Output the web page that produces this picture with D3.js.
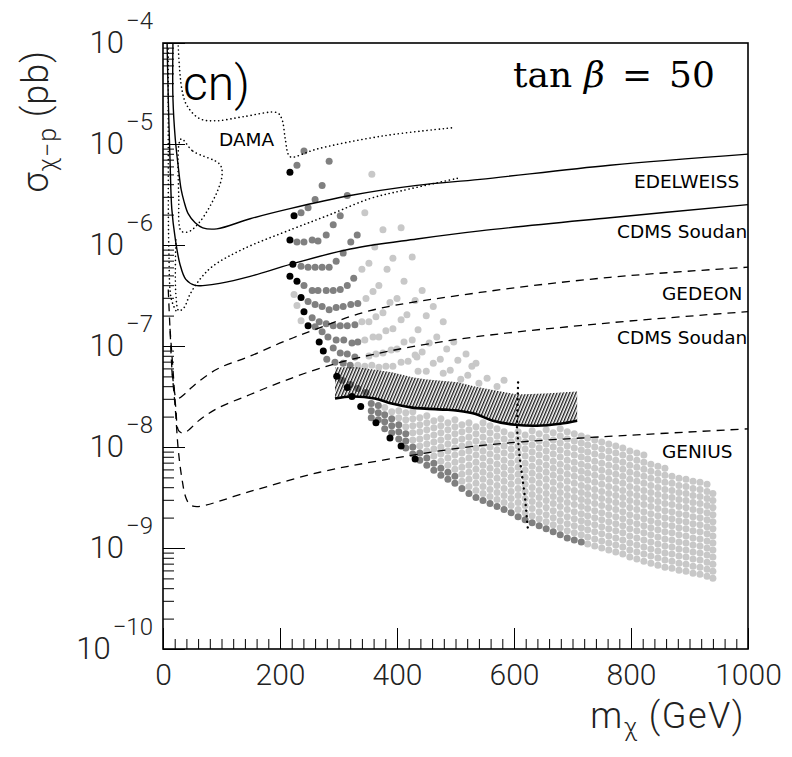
<!DOCTYPE html>
<html>
<head>
<meta charset="utf-8">
<script src="https://cdn.jsdelivr.net/npm/d3@7"></script>
<style>
  body { margin: 0; background: #fff; }
  svg { display: block; }
</style>
</head>
<body>
<div id="chart"></div>
<script>
// ---- data (m in GeV, lg = log10 of sigma in pb) ----
const xMajor = [0, 200, 400, 600, 800, 1000];
const yDecades = [-10, -9, -8, -7, -6, -5, -4];

const edelweiss = [[17,-4.00],[17,-4.55],[21,-4.95],[26,-5.22],[31,-5.45],[36,-5.57],[43,-5.69],[55,-5.78],[68,-5.83],[92,-5.84],[149,-5.74],[217,-5.64],[320,-5.51],[434,-5.41],[542,-5.35],[764,-5.21],[1000,-5.10]];
const cdmsSolid = [[7,-4.00],[9,-4.55],[12,-5.15],[15,-5.64],[21,-5.94],[29,-6.19],[39,-6.34],[55,-6.40],[72,-6.40],[97,-6.38],[149,-6.31],[219,-6.19],[320,-6.04],[434,-5.94],[542,-5.86],[764,-5.73],[1000,-5.60]];
const damaUpper = [[26,-4.03],[32,-4.45],[41,-4.62],[63,-4.75],[92,-4.77],[137,-4.73],[195,-4.69],[203,-4.75],[209,-4.95],[214,-5.10],[219,-5.13],[263,-5.05],[376,-4.92],[494,-4.84]];
const damaInner = [[31,-4.95],[51,-5.07],[97,-5.20],[101,-5.30],[92,-5.48],[63,-5.77],[43,-5.87],[31,-5.86],[27,-5.54]];
const damaLower = [[503,-5.34],[410,-5.46],[354,-5.54],[285,-5.70],[222,-5.84],[137,-6.04],[85,-6.21],[63,-6.34],[46,-6.49],[36,-6.62],[27,-6.65],[22,-6.49],[22,-5.94]];
const damaAxis = [[9,-4.06],[9,-5.05],[10,-6.04],[14,-6.53],[22,-6.65]];
const gedeon = [[9,-6.44],[12,-6.83],[17,-7.33],[24,-7.52],[38,-7.47],[51,-7.40],[92,-7.23],[149,-7.10],[205,-6.96],[263,-6.83],[354,-6.65],[542,-6.47],[764,-6.32],[1000,-6.22]];
const cdmsDashed = [[12,-6.83],[17,-7.23],[22,-7.62],[27,-7.84],[36,-7.86],[63,-7.73],[92,-7.62],[149,-7.48],[205,-7.35],[274,-7.21],[354,-7.09],[508,-6.93],[764,-6.77],[1000,-6.66]];
const genius = [[15,-7.23],[21,-7.62],[26,-8.02],[32,-8.30],[39,-8.50],[46,-8.57],[58,-8.59],[149,-8.44],[268,-8.25],[376,-8.13],[508,-8.01],[610,-7.95],[747,-7.90],[1000,-7.82]];

const bandTop = [[294,-7.21],[333,-7.21],[391,-7.26],[426,-7.31],[448,-7.33],[504,-7.36],[533,-7.40],[605,-7.48],[653,-7.47],[708,-7.45]];
const bandBottom = [[294,-7.52],[323,-7.50],[362,-7.52],[391,-7.57],[426,-7.61],[448,-7.62],[482,-7.63],[504,-7.64],[533,-7.67],[564,-7.74],[602,-7.78],[639,-7.79],[679,-7.77],[708,-7.74]];
const verticalBound = [[607,-7.36],[605,-7.82],[610,-8.12],[619,-8.51],[624,-8.83]];

const blackPts = [[217,-5.28],[224,-5.71],[217,-5.95],[222,-6.19],[217,-6.31],[229,-6.36],[236,-6.52],[241,-6.66],[248,-6.80],[267,-6.96],[274,-7.05],[297,-7.30],[315,-7.41],[323,-7.50],[338,-7.60],[364,-7.76],[388,-7.91],[407,-7.99],[431,-8.12]];
const grayPts = [[229,-5.21],[241,-5.07],[284,-5.17],[272,-5.41],[260,-5.55],[248,-5.63],[236,-5.68],
  [315,-5.51],[303,-5.71],[291,-5.80],[279,-5.90],[265,-5.96],[255,-5.95],[241,-5.97],[229,-5.97],
  [332,-5.90],[321,-5.97],[308,-6.08],[296,-6.16],[284,-6.22],[272,-6.22],[260,-6.22],[248,-6.22],[236,-6.21],
  [326,-6.33],[315,-6.40],[303,-6.44],[291,-6.45],[279,-6.45],[265,-6.45],[255,-6.45],[241,-6.40],
  [333,-6.58],[321,-6.59],[308,-6.61],[296,-6.62],[284,-6.64],[272,-6.61],[260,-6.59],[248,-6.56],
  [328,-6.79],[315,-6.80],[303,-6.80],[291,-6.80],[279,-6.78],[267,-6.76],[255,-6.72],[260,-6.81],[272,-6.86],
  [282,-6.91],[296,-6.94],[309,-6.94],[323,-6.97],[333,-6.96],
  [291,-7.02],[303,-7.07],[315,-7.08],[328,-7.11],
  [280,-7.13],[294,-7.16],[308,-7.17],[320,-7.19],
  [306,-7.34],[320,-7.38],[333,-7.42],[347,-7.46]];
const lightPts = [[357,-5.30],[345,-5.68],[376,-5.85],[407,-5.83],[362,-6.02],[393,-6.13],[426,-6.12],[352,-6.18],[340,-6.24],[383,-6.24],
  [369,-6.40],[412,-6.36],[443,-6.45],[359,-6.46],[347,-6.53],[400,-6.53],[388,-6.57],[431,-6.55],[462,-6.61],[450,-6.70],
  [417,-6.69],[407,-6.74],[376,-6.67],[364,-6.71],[352,-6.76],[340,-6.76],[479,-6.76],[436,-6.84],[393,-6.83],[381,-6.85],
  [369,-6.91],[359,-6.91],[345,-6.94],[426,-6.94],[412,-6.96],[455,-6.97],[468,-6.91],[497,-6.96],[485,-7.03],[400,-7.03],
  [390,-7.04],[376,-7.07],[364,-7.08],[352,-7.10],[443,-7.06],[431,-7.09],[419,-7.15],[407,-7.16],[434,-7.11],[518,-7.08],
  [504,-7.14],[474,-7.13],[462,-7.17],[535,-7.17],[491,-7.24],[479,-7.27],[450,-7.25],[436,-7.25],[393,-7.20],[381,-7.20],
  [369,-7.21],[357,-7.19],[345,-7.20],[333,-7.19],[521,-7.29],[509,-7.33],[554,-7.32],[583,-7.34],[540,-7.37],[571,-7.40],
  [528,-7.20],[224,-6.49],[229,-6.60],[236,-6.75]];

// dense lattice below the band: one column per m, lg listed from the bottom up
const denseM = [356,368,379,391,403,415,427,439,451,463,475,487,499,511,523,535,547,559,571,583,595,607,619,631,643,655,667,679,691,703,715,726,738,750,762,774,786,798,810,822,834,846,858,870,882,894,906,918,930,940];
const denseDark = [3,3,3,3,3,3,2,2,2,2,2,2,2,1,1,1,1,1,1,1,1,1,1,1,1,1,1,1,1,1,1,0,0,0,0,0,0,0,0,0,0,0,0,0,0,0,0,0,0,0];
const denseLg = [
  [-7.71,-7.64,-7.57],
  [-7.73,-7.66,-7.59],
  [-7.82,-7.75,-7.68,-7.61],
  [-7.86,-7.79,-7.72,-7.65],
  [-7.92,-7.85,-7.78,-7.71,-7.64],
  [-8.01,-7.94,-7.87,-7.80,-7.73,-7.66],
  [-8.07,-8.00,-7.93,-7.86,-7.79,-7.72,-7.65],
  [-8.13,-8.06,-7.99,-7.92,-7.85,-7.78,-7.71],
  [-8.18,-8.11,-8.04,-7.97,-7.90,-7.83,-7.76,-7.69],
  [-8.23,-8.16,-8.09,-8.02,-7.95,-7.88,-7.81,-7.74],
  [-8.28,-8.21,-8.14,-8.07,-8.00,-7.93,-7.86,-7.79,-7.72],
  [-8.32,-8.25,-8.18,-8.11,-8.04,-7.97,-7.90,-7.83,-7.76],
  [-8.36,-8.29,-8.22,-8.15,-8.08,-8.01,-7.94,-7.87,-7.80,-7.73],
  [-8.41,-8.34,-8.27,-8.20,-8.13,-8.06,-7.99,-7.92,-7.85,-7.78],
  [-8.46,-8.39,-8.32,-8.25,-8.18,-8.11,-8.04,-7.97,-7.90,-7.83,-7.76],
  [-8.50,-8.43,-8.36,-8.29,-8.22,-8.15,-8.08,-8.01,-7.94,-7.87,-7.80],
  [-8.53,-8.46,-8.39,-8.32,-8.25,-8.18,-8.11,-8.04,-7.97,-7.90,-7.83,-7.76],
  [-8.56,-8.49,-8.42,-8.35,-8.28,-8.21,-8.14,-8.07,-8.00,-7.93,-7.86,-7.79],
  [-8.59,-8.52,-8.45,-8.38,-8.31,-8.24,-8.17,-8.10,-8.03,-7.96,-7.89,-7.82],
  [-8.62,-8.55,-8.48,-8.41,-8.34,-8.27,-8.20,-8.13,-8.06,-7.99,-7.92,-7.85],
  [-8.65,-8.58,-8.51,-8.44,-8.37,-8.30,-8.23,-8.16,-8.09,-8.02,-7.95,-7.88],
  [-8.69,-8.62,-8.55,-8.48,-8.41,-8.34,-8.27,-8.20,-8.13,-8.06,-7.99,-7.92,-7.85],
  [-8.72,-8.65,-8.58,-8.51,-8.44,-8.37,-8.30,-8.23,-8.16,-8.09,-8.02,-7.95,-7.88],
  [-8.75,-8.68,-8.61,-8.54,-8.47,-8.40,-8.33,-8.26,-8.19,-8.12,-8.05,-7.98,-7.91,-7.84],
  [-8.78,-8.71,-8.64,-8.57,-8.50,-8.43,-8.36,-8.29,-8.22,-8.15,-8.08,-8.01,-7.94,-7.87],
  [-8.81,-8.74,-8.67,-8.60,-8.53,-8.46,-8.39,-8.32,-8.25,-8.18,-8.11,-8.04,-7.97,-7.90,-7.83],
  [-8.84,-8.77,-8.70,-8.63,-8.56,-8.49,-8.42,-8.35,-8.28,-8.21,-8.14,-8.07,-8.00,-7.93,-7.86],
  [-8.87,-8.80,-8.73,-8.66,-8.59,-8.52,-8.45,-8.38,-8.31,-8.24,-8.17,-8.10,-8.03,-7.96,-7.89,-7.82],
  [-8.90,-8.83,-8.76,-8.69,-8.62,-8.55,-8.48,-8.41,-8.34,-8.27,-8.20,-8.13,-8.06,-7.99,-7.92,-7.85],
  [-8.92,-8.85,-8.78,-8.71,-8.64,-8.57,-8.50,-8.43,-8.36,-8.29,-8.22,-8.15,-8.08,-8.01,-7.94,-7.87],
  [-8.94,-8.87,-8.80,-8.73,-8.66,-8.59,-8.52,-8.45,-8.38,-8.31,-8.24,-8.17,-8.10,-8.03,-7.96,-7.89],
  [-8.96,-8.89,-8.82,-8.75,-8.68,-8.61,-8.54,-8.47,-8.40,-8.33,-8.26,-8.19,-8.12,-8.05,-7.98,-7.91],
  [-8.98,-8.91,-8.84,-8.77,-8.70,-8.63,-8.56,-8.49,-8.42,-8.35,-8.28,-8.21,-8.14,-8.07,-8.00,-7.93],
  [-9.00,-8.93,-8.86,-8.79,-8.72,-8.65,-8.58,-8.51,-8.44,-8.37,-8.30,-8.23,-8.16,-8.09,-8.02,-7.95],
  [-9.02,-8.95,-8.88,-8.81,-8.74,-8.67,-8.60,-8.53,-8.46,-8.39,-8.32,-8.25,-8.18,-8.11,-8.04,-7.97],
  [-9.04,-8.97,-8.90,-8.83,-8.76,-8.69,-8.62,-8.55,-8.48,-8.41,-8.34,-8.27,-8.20,-8.13,-8.06,-7.99],
  [-9.06,-8.99,-8.92,-8.85,-8.78,-8.71,-8.64,-8.57,-8.50,-8.43,-8.36,-8.29,-8.22,-8.15,-8.08,-8.01],
  [-9.09,-9.02,-8.95,-8.88,-8.81,-8.74,-8.67,-8.60,-8.53,-8.46,-8.39,-8.32,-8.25,-8.18,-8.11,-8.04],
  [-9.11,-9.04,-8.97,-8.90,-8.83,-8.76,-8.69,-8.62,-8.55,-8.48,-8.41,-8.34,-8.27,-8.20,-8.13,-8.06],
  [-9.13,-9.06,-8.99,-8.92,-8.85,-8.78,-8.71,-8.64,-8.57,-8.50,-8.43,-8.36,-8.29,-8.22,-8.15,-8.08],
  [-9.15,-9.08,-9.01,-8.94,-8.87,-8.80,-8.73,-8.66,-8.59,-8.52,-8.45,-8.38,-8.31,-8.24,-8.17],
  [-9.17,-9.10,-9.03,-8.96,-8.89,-8.82,-8.75,-8.68,-8.61,-8.54,-8.47,-8.40,-8.33,-8.26,-8.19],
  [-9.19,-9.12,-9.05,-8.98,-8.91,-8.84,-8.77,-8.70,-8.63,-8.56,-8.49,-8.42,-8.35,-8.28,-8.21],
  [-9.20,-9.13,-9.06,-8.99,-8.92,-8.85,-8.78,-8.71,-8.64,-8.57,-8.50,-8.43,-8.36,-8.29],
  [-9.22,-9.15,-9.08,-9.01,-8.94,-8.87,-8.80,-8.73,-8.66,-8.59,-8.52,-8.45,-8.38,-8.31],
  [-9.23,-9.16,-9.09,-9.02,-8.95,-8.88,-8.81,-8.74,-8.67,-8.60,-8.53,-8.46,-8.39,-8.32],
  [-9.25,-9.18,-9.11,-9.04,-8.97,-8.90,-8.83,-8.76,-8.69,-8.62,-8.55,-8.48,-8.41,-8.34],
  [-9.26,-9.19,-9.12,-9.05,-8.98,-8.91,-8.84,-8.77,-8.70,-8.63,-8.56,-8.49,-8.42,-8.35],
  [-9.28,-9.21,-9.14,-9.07,-9.00,-8.93,-8.86,-8.79,-8.72,-8.65,-8.58,-8.51,-8.44,-8.37],
  [-9.30,-9.23,-9.16,-9.09,-9.02,-8.95,-8.88,-8.81,-8.74,-8.67,-8.60,-8.53,-8.46]
];

const curveLabels = [
  {text: 'DAMA', x: 219, y: 146},
  {text: 'EDELWEISS', x: 634, y: 188},
  {text: 'CDMS Soudan', x: 617, y: 238},
  {text: 'GEDEON', x: 662, y: 300},
  {text: 'CDMS Soudan', x: 617, y: 344},
  {text: 'GENIUS', x: 662, y: 458}
];

// ---- layout ----
const margin = { top: 43, right: 44, bottom: 108, left: 163 };
const width = 585;
const height = 606;
const thin = 'Roboto, "DejaVu Sans", sans-serif';

const root = d3.select('#chart').append('svg')
    .attr('width', 792)
    .attr('height', 757);

const defs = root.append('defs');
defs.append('pattern')
    .attr('id', 'hatch')
    .attr('patternUnits', 'userSpaceOnUse')
    .attr('width', 2.9)
    .attr('height', 10)
    .attr('patternTransform', 'rotate(23)')
    .append('line')
    .attr('x1', 0.7).attr('y1', 0).attr('x2', 0.7).attr('y2', 10)
    .attr('stroke', '#000')
    .attr('stroke-width', 1.2);

const svg = root.append('g')
    .attr('transform', `translate(${margin.left},${margin.top})`);

const x = d3.scaleLinear().domain([0, 1000]).range([0, width]);
const y = d3.scaleLog().domain([1e-10, 1e-4]).range([height, 0]);
const px = d => x(d[0]);
const py = d => y(Math.pow(10, d[1]));

// scatter points
const densePts = denseM.flatMap((m, i) => denseLg[i].map((lg, j) => ({ p: [m, lg], dark: j < denseDark[i] })));

function dots(data, fill) {
    svg.append('g')
        .selectAll('circle')
        .data(data)
        .join('circle')
        .attr('cx', px)
        .attr('cy', py)
        .attr('r', 3.5)
        .attr('fill', fill);
}
dots(densePts.filter(d => !d.dark).map(d => d.p), '#c8c8c8');
dots(lightPts, '#c8c8c8');
dots(densePts.filter(d => d.dark).map(d => d.p), '#808080');
dots(grayPts, '#808080');
dots(blackPts, '#000');

// hatched band
const bandPoly = bandTop.concat(bandBottom.slice().reverse());
svg.append('path')
    .datum(bandPoly)
    .attr('fill', 'url(#hatch)')
    .attr('stroke', 'none')
    .attr('d', d => d3.line().x(px).y(py)(d) + 'Z');

const smooth = d3.line().x(px).y(py).curve(d3.curveCatmullRom.alpha(0.5));

svg.append('path')
    .datum(bandBottom)
    .attr('fill', 'none')
    .attr('stroke', '#000')
    .attr('stroke-width', 2.6)
    .attr('d', smooth);

// exclusion curves
function curve(data, dash, w, closed) {
    const gen = closed ? d3.line().x(px).y(py).curve(d3.curveCatmullRomClosed.alpha(0.5)) : smooth;
    svg.append('path')
        .datum(data)
        .attr('fill', 'none')
        .attr('stroke', '#000')
        .attr('stroke-width', w)
        .attr('stroke-linecap', dash === 'dot' ? 'round' : 'butt')
        .attr('stroke-dasharray', dash === 'dot' ? '0.1 4' : dash)
        .attr('d', gen);
}
curve(edelweiss, null, 1.4);
curve(cdmsSolid, null, 1.4);
curve(damaUpper, 'dot', 1.6);
curve(damaInner, 'dot', 1.6, true);
curve(damaLower, 'dot', 1.6);
curve(damaAxis, 'dot', 1.6);
curve(gedeon, '8 6', 1.3);
curve(cdmsDashed, '8 6', 1.3);
curve(genius, '8 6', 1.3);

svg.append('path')
    .datum(verticalBound)
    .attr('fill', 'none')
    .attr('stroke', '#000')
    .attr('stroke-width', 2.4)
    .attr('stroke-linecap', 'round')
    .attr('stroke-dasharray', '0.1 5.5')
    .attr('d', d3.line().x(px).y(py));

// axes
const yMinor = yDecades.slice(0, -1).flatMap(e => d3.range(2, 10).map(k => k * Math.pow(10, e)));
const xMinor = d3.range(0, 1001, 20).filter(v => !xMajor.includes(v));

svg.append('g')
    .call(d3.axisLeft(y).tickValues(yMinor).tickSize(-11).tickFormat(''))
    .call(g => g.select('.domain').remove());

const yAxis = svg.append('g')
    .call(d3.axisLeft(y).tickValues(yDecades.map(e => Math.pow(10, e))).tickSize(-22).tickPadding(10))
    .call(g => g.select('.domain').remove())
    .attr('font-family', thin)
    .attr('font-weight', 300)
    .attr('font-size', 31);

yAxis.selectAll('.tick text').each(function (d) {
    const t = d3.select(this).text('').attr('fill', '#222');
    t.append('tspan').text('10');
    t.append('tspan')
        .attr('dx', 2)
        .attr('dy', -24)
        .attr('font-size', 24)
        .text('\u2212' + Math.round(-Math.log10(d)));
});

svg.append('g')
    .attr('transform', `translate(0,${height})`)
    .call(d3.axisBottom(x).tickValues(xMinor).tickSize(-10).tickFormat(''))
    .call(g => g.select('.domain').remove());

svg.append('g')
    .attr('transform', `translate(0,${height})`)
    .call(d3.axisBottom(x).tickValues(xMajor).tickSize(-21).tickPadding(15).tickFormat(d3.format('d')))
    .call(g => g.select('.domain').remove())
    .attr('font-family', thin)
    .attr('font-weight', 300)
    .attr('font-size', 30)
    .selectAll('text').attr('fill', '#222');

svg.selectAll('.tick line').attr('stroke', '#000').attr('stroke-width', 1);

// frame
svg.append('rect')
    .attr('width', width)
    .attr('height', height)
    .attr('fill', 'none')
    .attr('stroke', '#000')
    .attr('stroke-width', 1.6);

// texts
svg.append('g')
    .selectAll('text')
    .data(curveLabels)
    .join('text')
    .attr('x', d => d.x - margin.left)
    .attr('y', d => d.y - margin.top)
    .attr('font-family', '"DejaVu Sans", sans-serif')
    .attr('font-size', 18.5)
    .text(d => d.text);

root.append('text')
    .attr('x', 183).attr('y', 100)
    .attr('font-family', thin)
    .attr('font-weight', 300)
    .attr('font-size', 48)
    .text('cn)');

const tanb = root.append('g')
    .attr('font-family', '"DejaVu Serif", serif')
    .attr('font-size', 36);
tanb.append('text').attr('x', 513).attr('y', 87).text('tan');
tanb.append('text').attr('x', 584).attr('y', 87).attr('font-style', 'italic').text('\u03b2');
tanb.append('text').attr('x', 622).attr('y', 87).text('=');
tanb.append('text').attr('x', 669).attr('y', 87).text('50');

const yTitle = root.append('text')
    .attr('transform', 'translate(48,50) rotate(-90)')
    .attr('text-anchor', 'end')
    .attr('font-family', thin)
    .attr('font-weight', 300)
    .attr('font-size', 36)
    .attr('letter-spacing', 1)
    .attr('fill', '#222');
yTitle.append('tspan').text('\u03c3');
yTitle.append('tspan').attr('dy', 8).attr('font-size', 25).text('\u03c7\u2212p');
yTitle.append('tspan').attr('dy', -8).text(' (pb)');

const xTitle = root.append('text')
    .attr('x', 745).attr('y', 728)
    .attr('text-anchor', 'end')
    .attr('font-family', thin)
    .attr('font-weight', 300)
    .attr('font-size', 36)
    .attr('letter-spacing', 1.5)
    .attr('fill', '#222');
xTitle.append('tspan').text('m');
xTitle.append('tspan').attr('dy', 8).attr('font-size', 25).text('\u03c7');
xTitle.append('tspan').attr('dy', -8).text(' (GeV)');
</script>
</body>
</html>
